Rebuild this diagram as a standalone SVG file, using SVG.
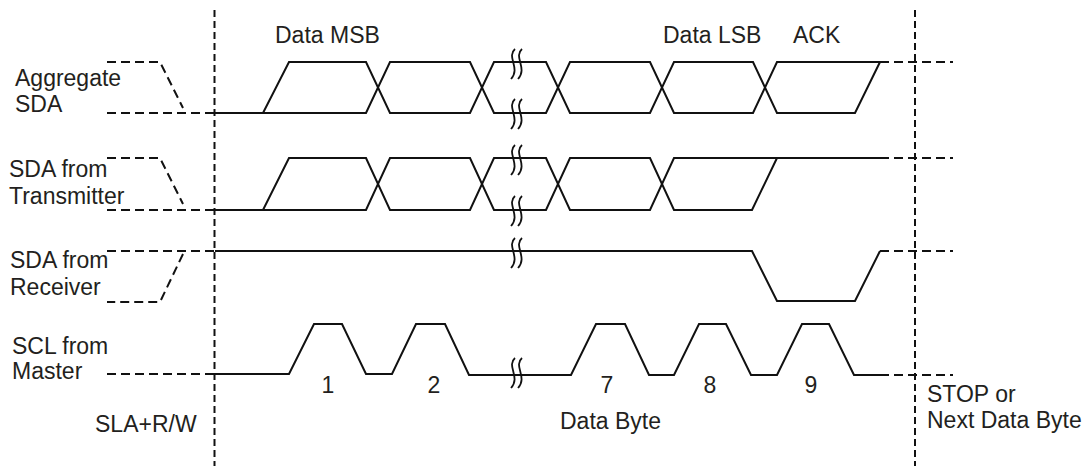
<svg xmlns="http://www.w3.org/2000/svg" width="1091" height="466" viewBox="0 0 1091 466">
<style>
.sig{fill:none;stroke:#111;stroke-width:2;stroke-linejoin:miter}
.dash{fill:none;stroke:#111;stroke-width:2;stroke-dasharray:9 5}
.vdash{fill:none;stroke:#111;stroke-width:2;stroke-dasharray:7 4}
.brk{fill:none;stroke:#111;stroke-width:1.8}
text{font-family:"Liberation Sans",Arial,sans-serif;font-size:23px;fill:#231f20}
</style>
<defs>
<g id="brk"><path class="brk" d="M2,-15 C-7,-7 8,4 -2,15"/><path class="brk" d="M9,-15 C0,-7 15,4 5,15"/></g>
</defs>
<rect width="1091" height="466" fill="#fff"/>
<g id="connectors">
<line class="vdash" x1="214.5" y1="10" x2="214.5" y2="466"/>
<line class="vdash" x1="915" y1="10" x2="915" y2="466"/>
</g>
<g id="aggregate-sda">
<polyline class="dash" points="107,62 160,62 183,108"/>
<line class="dash" x1="107" y1="113" x2="215" y2="113"/>
<path class="sig" d="M215,113 H263 L289,62 H366 L390,113 H470 L494,62 H546 L570,113 H650 L674,62 H753 L777,113 H855 L880,62"/>
<path class="sig" d="M263,113 H366 L390,62 H470 L494,113 H546 L570,62 H650 L674,113 H753 L777,62 H880"/>
<line class="dash" x1="880" y1="62" x2="953" y2="62"/>
<use href="#brk" x="513" y="64"/>
<use href="#brk" x="513" y="114"/>
<text x="15" y="86">Aggregate</text>
<text x="15" y="112">SDA</text>
</g>
<g id="sda-transmitter">
<polyline class="dash" points="107,158 160,158 183,204"/>
<line class="dash" x1="107" y1="210" x2="215" y2="210"/>
<path class="sig" d="M215,210 H263 L289,158 H366 L390,210 H470 L494,158 H546 L570,210 H650 L674,158 H880"/>
<path class="sig" d="M263,210 H366 L390,158 H470 L494,210 H546 L570,158 H650 L674,210 H752 L777,158"/>
<line class="dash" x1="880" y1="158" x2="953" y2="158"/>
<use href="#brk" x="513" y="160"/>
<use href="#brk" x="513" y="211"/>
<text x="9" y="177">SDA from</text>
<text x="9" y="204">Transmitter</text>
</g>
<g id="sda-receiver">
<line class="dash" x1="107" y1="251" x2="215" y2="251"/>
<polyline class="dash" points="183,254 160,302 107,302"/>
<path class="sig" d="M215,251 H752 L777,301 H855 L880,251"/>
<line class="dash" x1="880" y1="251" x2="953" y2="251"/>
<use href="#brk" x="513" y="253"/>
<text x="10" y="268">SDA from</text>
<text x="10" y="295">Receiver</text>
</g>
<g id="scl-master">
<line class="dash" x1="107" y1="374" x2="215" y2="374"/>
<path class="sig" d="M215,374 H289 L314,324 H342 L366,374 H392 L416,324 H445 L469,375 H571 L596,324 H625 L649,375 H674 L699,324 H726 L751,375 H777 L802,324 H829 L854,375 H880"/>
<line class="dash" x1="880" y1="375" x2="953" y2="375"/>
<use href="#brk" x="513" y="373"/>
<text x="12" y="354">SCL from</text>
<text x="12" y="379">Master</text>
<text x="328" y="393" text-anchor="middle">1</text>
<text x="434" y="393" text-anchor="middle">2</text>
<text x="607" y="393" text-anchor="middle">7</text>
<text x="710" y="393" text-anchor="middle">8</text>
<text x="811" y="393" text-anchor="middle">9</text>
</g>
<g id="labels">
<text x="275" y="43">Data MSB</text>
<text x="663" y="43">Data LSB</text>
<text x="793" y="43">ACK</text>
<text x="95" y="432">SLA+R/W</text>
<text x="560" y="429">Data Byte</text>
<text x="927" y="402">STOP or</text>
<text x="927" y="428">Next Data Byte</text>
</g>
</svg>
